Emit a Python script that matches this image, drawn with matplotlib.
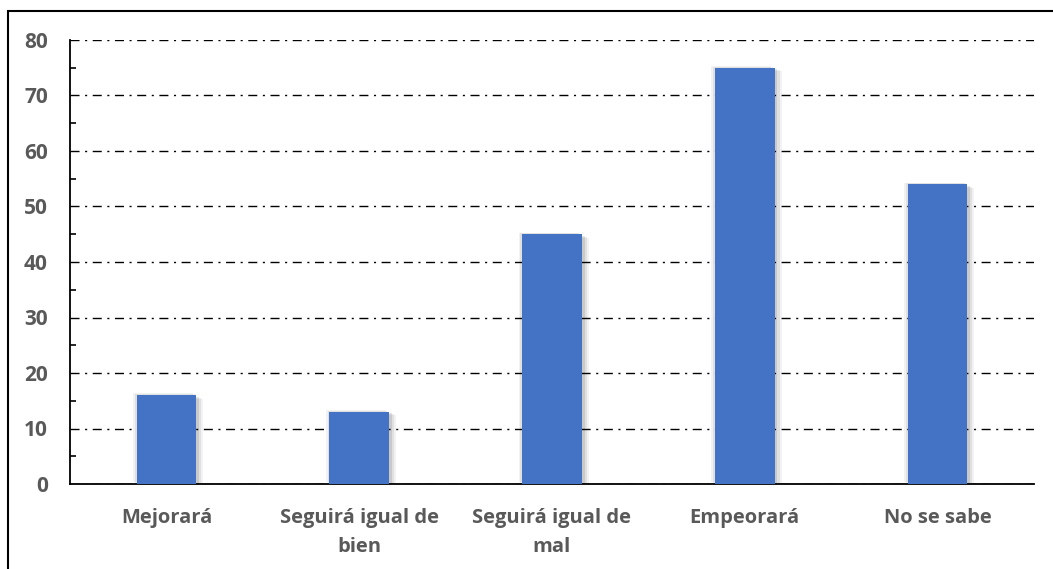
import matplotlib
matplotlib.use("Agg")
import matplotlib.pyplot as plt
import matplotlib.patheffects as pe
from matplotlib.patches import Rectangle
from matplotlib.ticker import MultipleLocator

categories = ["Mejorará", "Seguirá igual de\nbien", "Seguirá igual de\nmal", "Empeorará", "No se sabe"]
values = [16, 13, 45, 75, 54]

plt.rcParams['font.family'] = ['Open Sans', 'DejaVu Sans']

fig = plt.figure(figsize=(10.53, 5.69), dpi=100)
ax = fig.add_axes([70/1053, 1-484/569, (1034-70)/1053, (484-40)/569])

x = list(range(len(categories)))
shadow = [pe.SimplePatchShadow(offset=(o, -o*0.5), shadow_rgbFace='black', alpha=a)
          for o, a in [(5, 0.05), (3.5, 0.07), (2, 0.10), (-2.5, 0.05), (-1.2, 0.07)]]
bars = ax.bar(x, values, width=0.31, color='#4472C4', zorder=3,
              path_effects=shadow + [pe.Normal()])

ax.set_xlim(-0.5, len(categories) - 0.5)
ax.set_ylim(0, 80)
ax.yaxis.set_major_locator(MultipleLocator(10))
ax.yaxis.set_minor_locator(MultipleLocator(5))
ax.grid(axis='y', which='major', color='black', linewidth=1.0,
        linestyle=(0, (6.5, 4, 1.5, 4)), zorder=1)
ax.set_xticks(x)
ax.set_xticklabels(categories, fontsize=14.5, fontweight='bold', color='#595959', linespacing=1.6)
ax.tick_params(axis='x', length=0, pad=17)
ax.tick_params(axis='y', which='major', length=0, pad=16, labelsize=15, labelcolor='#595959')
ax.tick_params(axis='y', which='minor', direction='in', length=4.5, width=1.2, color='black')
for lbl in ax.get_yticklabels():
    lbl.set_fontweight('bold')
for s in ['top', 'right']:
    ax.spines[s].set_visible(False)
ax.spines['left'].set_linewidth(1.3)
ax.spines['bottom'].set_linewidth(1.3)

fig.patches.append(Rectangle((8/1053, -0.1), 1.2, 1 - 11/569 + 0.1, transform=fig.transFigure,
                             fill=False, edgecolor='black', linewidth=1.5, zorder=0))

fig.savefig("out.png", dpi=100)
